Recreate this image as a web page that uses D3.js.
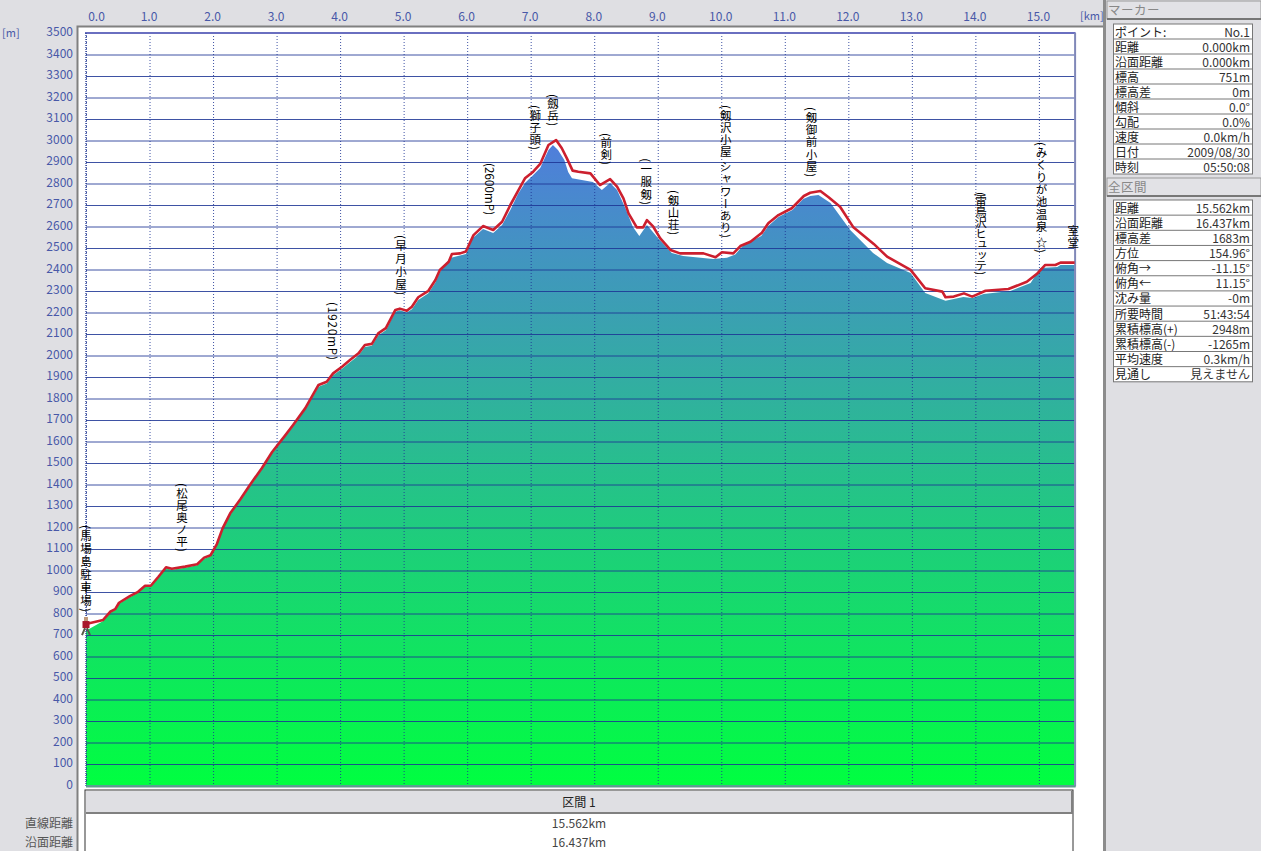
<!DOCTYPE html>
<html><head><meta charset="utf-8">
<script src="https://cdn.jsdelivr.net/npm/d3@7"></script>
<style>
html,body{margin:0;padding:0;background:#dfdfe3;overflow:hidden}
svg{display:block}
text{font-family:"Noto Sans CJK JP",sans-serif}
</style></head><body><svg id="c" width="1261" height="851"></svg>
<script>
const routeKm=[0,0.27,0.38,0.46,0.52,0.69,0.82,0.93,1.02,1.14,1.26,1.35,1.56,1.75,1.86,1.96,2.06,2.15,2.27,2.43,2.58,2.77,2.93,3.13,3.26,3.45,3.66,3.79,3.89,4.03,4.16,4.29,4.39,4.50,4.60,4.72,4.87,4.94,5.05,5.13,5.23,5.39,5.50,5.57,5.71,5.76,5.89,5.98,6.10,6.25,6.41,6.55,6.68,6.81,6.91,7.04,7.15,7.28,7.40,7.49,7.57,7.66,7.75,7.94,8.09,8.25,8.36,8.46,8.54,8.67,8.77,8.83,8.93,9.04,9.20,9.35,9.72,9.91,10.01,10.19,10.30,10.46,10.64,10.74,10.90,11.11,11.30,11.40,11.56,11.69,11.87,12.08,12.40,12.61,12.98,13.21,13.48,13.53,13.66,13.82,13.95,14.16,14.52,14.81,14.97,15.10,15.26,15.34,15.562];
const routeM=[751,770,808,820,850,881,901,929,929,971,1015,1008,1018,1029,1060,1071,1123,1196,1266,1331,1398,1477,1551,1626,1677,1754,1863,1878,1917,1948,1980,2010,2049,2054,2103,2127,2212,2218,2208,2227,2271,2301,2351,2398,2436,2472,2475,2484,2560,2602,2584,2622,2700,2770,2824,2855,2891,2979,3002,2964,2917,2860,2855,2847,2793,2820,2785,2731,2661,2596,2596,2630,2599,2545,2491,2475,2475,2457,2480,2475,2509,2529,2571,2615,2653,2685,2742,2757,2765,2736,2692,2596,2519,2460,2398,2313,2297,2271,2274,2289,2274,2301,2309,2343,2380,2421,2421,2432,2432];
const groundKm=[0,0.27,0.38,0.46,0.52,0.69,0.82,0.93,1.02,1.14,1.26,1.35,1.56,1.75,1.86,1.96,2.06,2.15,2.27,2.43,2.58,2.77,2.93,3.13,3.26,3.45,3.66,3.79,3.89,4.03,4.16,4.29,4.39,4.50,4.60,4.72,4.87,4.94,5.05,5.13,5.23,5.39,5.50,5.57,5.73,5.98,6.09,6.25,6.41,6.55,6.68,6.80,6.91,7.04,7.15,7.28,7.35,7.43,7.53,7.59,7.65,7.98,8.12,8.25,8.36,8.49,8.61,8.71,8.83,8.99,9.22,9.40,9.87,10.09,10.22,10.35,10.63,10.74,10.90,11.12,11.29,11.40,11.53,11.72,12.03,12.39,12.61,12.98,13.21,13.53,13.81,13.95,14.13,14.55,14.87,15.02,15.29,15.34,15.562];
const groundM=[720,765,803,815,845,876,896,924,924,966,1010,1003,1013,1024,1055,1066,1118,1190,1260,1325,1392,1471,1545,1620,1671,1748,1855,1870,1908,1938,1970,2000,2040,2045,2093,2118,2203,2210,2200,2215,2258,2290,2340,2388,2453,2472,2546,2588,2570,2607,2677,2751,2802,2840,2872,2956,2979,2956,2909,2853,2825,2807,2770,2802,2770,2686,2598,2556,2607,2551,2477,2463,2449,2455,2470,2514,2556,2602,2644,2677,2728,2742,2747,2709,2584,2477,2430,2384,2291,2255,2272,2267,2286,2300,2337,2407,2412,2421,2421];
const xTicks=d3.range(0,16);
const yTicks=d3.range(0,3501,100);
const placeNames=["(馬場島駐車場)","(松尾奥ノ平)","(1920mP)","(早月小屋)","(2600mP)","(獅子頭)","(劔岳)","(前剣)","(一服剱)","(剱山荘)","(剱沢小屋 シャワーあり)","(剱御前小屋)","(雷鳥沢ヒュッテ)","(みくりが池温泉 ☆)","室堂"];
const placeKm=[0,1.51,3.89,4.96,6.36,7.07,7.35,8.19,8.82,9.25,10.07,11.42,14.09,15.04,15.54];
const placeTopM=[1212,1407,2249,2560,2895,3165,3216,3035,2918,2770,3165,3156,2760,2993,2607];
const placeBottomM=[807,1086,1979,2281,2653,2956,3067,2886,2700,2560,2547,2830,2374,2477,2500];
const markerRows=[["ポイント:","No.1"],["距離","0.000km"],["沿面距離","0.000km"],["標高","751m"],["標高差","0m"],["傾斜","0.0°"],["勾配","0.0%"],["速度","0.0km/h"],["日付","2009/08/30"],["時刻","05:50:08"]];
const totalRows=[["距離","15.562km"],["沿面距離","16.437km"],["標高差","1683m"],["方位","154.96°"],["俯角→","-11.15°"],["俯角←","11.15°"],["沈み量","-0m"],["所要時間","51:43:54"],["累積標高(+)","2948m"],["累積標高(-)","-1265m"],["平均速度","0.3km/h"],["見通し","見えません"]];
const sectionRows=[["直線距離","15.562km"],["沿面距離","16.437km"]];

const svg=d3.select("#c");
const X0=86,X1=1074.6,Y0=785.5,Y1=33;
const x=d3.scaleLinear().domain([0,15.562]).range([X0,X1]);
const y=d3.scaleLinear().domain([0,3500]).range([Y0,Y1]);

// window panels
svg.append("rect").attr("width",1261).attr("height",851).attr("fill","#dfdfe3");
svg.append("rect").attr("x",78).attr("y",27).attr("width",1026).attr("height",824).attr("fill","#fff");
svg.append("path").attr("d","M77.5,851V26.5H1104").attr("fill","none").attr("stroke","#808080").attr("stroke-width",2);
svg.append("rect").attr("x",1103).attr("y",0).attr("width",3).attr("height",851).attr("fill","#8c8c8c");

// fill
const defs=svg.append("defs");
const g=defs.append("linearGradient").attr("id","hgrad").attr("gradientUnits","userSpaceOnUse")
 .attr("x1",0).attr("x2",0).attr("y1",y(0)).attr("y2",y(3000));
g.append("stop").attr("offset",0).attr("stop-color","#00ff40");
g.append("stop").attr("offset",1).attr("stop-color","#507ddc");
const ground=groundKm.map((k,i)=>[k,groundM[i]]);
const route=routeKm.map((k,i)=>[k,routeM[i]]);
svg.append("path").datum(ground).attr("fill","url(#hgrad)")
 .attr("d",d3.area().x(d=>x(d[0])).y0(y(0)).y1(d=>y(d[1])));

// grid
const gridY=svg.append("g").attr("transform",`translate(${X0},0)`)
 .call(d3.axisLeft(y).tickValues(yTicks).tickSize(-(X1-X0)).tickFormat(""));
gridY.select(".domain").remove();
gridY.selectAll("line").attr("stroke","#1c3494").attr("stroke-width",1).attr("stroke-opacity",.85);
const gridX=svg.append("g").attr("transform",`translate(0,${Y1})`)
 .call(d3.axisBottom(x).tickValues(xTicks).tickSize(Y0-Y1).tickFormat(""));
gridX.select(".domain").remove();
gridX.selectAll("line").attr("stroke","#1c3494").attr("stroke-opacity",.85).attr("stroke-width",1).attr("stroke-dasharray","1 2");

// plot frame
svg.append("line").attr("x1",X0-1).attr("x2",X1+1).attr("y1",Y1).attr("y2",Y1).attr("stroke","#6a6fc0").attr("stroke-width",2);
svg.append("line").attr("x1",X1+.5).attr("x2",X1+.5).attr("y1",Y1).attr("y2",Y0+1).attr("stroke","#8088b8").attr("stroke-width",2);
svg.append("line").attr("x1",X0).attr("x2",X0).attr("y1",Y1).attr("y2",Y0+1).attr("stroke","#34489a").attr("stroke-width",1.4).attr("stroke-dasharray","1 1");
svg.append("line").attr("x1",X0).attr("x2",X1+1).attr("y1",Y0+1).attr("y2",Y0+1).attr("stroke","#5c9c8c").attr("stroke-width",2);

// route
svg.append("path").datum(route).attr("fill","none").attr("stroke","#cc1f2e").attr("stroke-width",2.6).attr("stroke-linejoin","round")
 .attr("d",d3.line().x(d=>x(d[0])).y(d=>y(d[1])));

// axes
const ink="#4858a8";
const axT=svg.append("g").attr("transform","translate(0,21)")
 .call(d3.axisTop(x).tickValues(xTicks).tickSize(0).tickPadding(0).tickFormat(d3.format(".1f")));
axT.select(".domain").remove();
axT.selectAll("text").attr("fill",ink).attr("font-size",12).attr("font-family",'"Noto Sans CJK JP"').attr("dx",d=>d===0?10:-1);
const axL=svg.append("g").attr("transform","translate(73,0)")
 .call(d3.axisLeft(y).tickValues(yTicks).tickSize(0).tickPadding(0).tickFormat(d3.format("d")));
axL.select(".domain").remove();
axL.selectAll("text").attr("fill",ink).attr("font-size",12).attr("font-family",'"Noto Sans CJK JP"').attr("dy","0.22em");
svg.append("text").attr("x",2).attr("y",37).attr("fill",ink).attr("font-size",11).text("[m]");
svg.append("text").attr("x",1080).attr("y",20).attr("fill",ink).attr("font-size",11).text("[km]");

// place labels
const lab=svg.append("g");
placeNames.forEach((n,i)=>{
 lab.append("text").attr("transform",`translate(${x(placeKm[i])},${y(placeTopM[i])})`)
  .style("writing-mode","vertical-rl").style("text-orientation","mixed")
  .attr("textLength",y(placeBottomM[i])-y(placeTopM[i])).attr("lengthAdjust","spacing")
  .attr("font-size",11.5).attr("fill","#000").text(n);
});

// start marker
const m=svg.append("g").attr("transform",`translate(${x(0)},${y(routeM[0])})`);
m.append("rect").attr("x",-2).attr("y",-7).attr("width",4).attr("height",4).attr("fill","#c09878");
m.append("rect").attr("x",-3.5).attr("y",-3).attr("width",7).attr("height",7).attr("fill","#a8182c");
m.append("path").attr("d","M-1,4L-4,11M1,4L4,11").attr("stroke","#5a5a48").attr("stroke-width",2);

// side panels
function button(yb,label){
 svg.append("rect").attr("x",1107).attr("y",yb).attr("width",154).attr("height",18).attr("fill","#e2e2e6").attr("stroke","#9a9a9a");
 svg.append("rect").attr("x",1107).attr("y",yb+17).attr("width",154).attr("height",2).attr("fill","#777");
 svg.append("text").attr("x",1108).attr("y",yb+14).attr("font-size",12.5).attr("fill","#888").attr("letter-spacing",.5).text(label);
}
function table(top,rows,h){
 const t=svg.append("g");
 t.append("rect").attr("x",1113.5).attr("y",top).attr("width",139).attr("height",rows.length*h).attr("fill","#fff").attr("stroke","#777");
 rows.forEach((r,i)=>{
  const ry=top+i*h;
  if(i) t.append("line").attr("x1",1113.5).attr("x2",1252.5).attr("y1",ry).attr("y2",ry).attr("stroke","#777");
  t.append("text").attr("x",1115).attr("y",ry+12.5).attr("font-size",12).attr("fill","#222").text(r[0]);
  t.append("text").attr("x",1250).attr("y",ry+12.5).attr("font-size",12).attr("fill","#333").attr("text-anchor","end").text(r[1]);
 });
}
button(1,"マーカー");
table(24,markerRows,15);
button(178,"全区間");
table(200,totalRows,15.15);

// section table
svg.append("rect").attr("x",85).attr("y",790).attr("width",988).attr("height",70).attr("fill","#fff").attr("stroke","#333");
svg.append("rect").attr("x",86).attr("y",791).attr("width",986).attr("height",22).attr("fill","#dfdfe3");
svg.append("rect").attr("x",86).attr("y",812).attr("width",986).attr("height",2).attr("fill","#808080");
svg.append("rect").attr("x",1071).attr("y",791).attr("width",2).attr("height",23).attr("fill","#808080");
svg.append("text").attr("x",579).attr("y",807).attr("text-anchor","middle").attr("font-size",12).attr("fill","#222").text("区間 1");
sectionRows.forEach((r,i)=>{
 const ry=828+i*18.5;
 svg.append("text").attr("x",73).attr("y",ry).attr("text-anchor","end").attr("font-size",12).attr("fill","#555").text(r[0]);
 svg.append("text").attr("x",579).attr("y",ry).attr("text-anchor","middle").attr("font-size",12).attr("fill","#444").text(r[1]);
});
</script></body></html>
